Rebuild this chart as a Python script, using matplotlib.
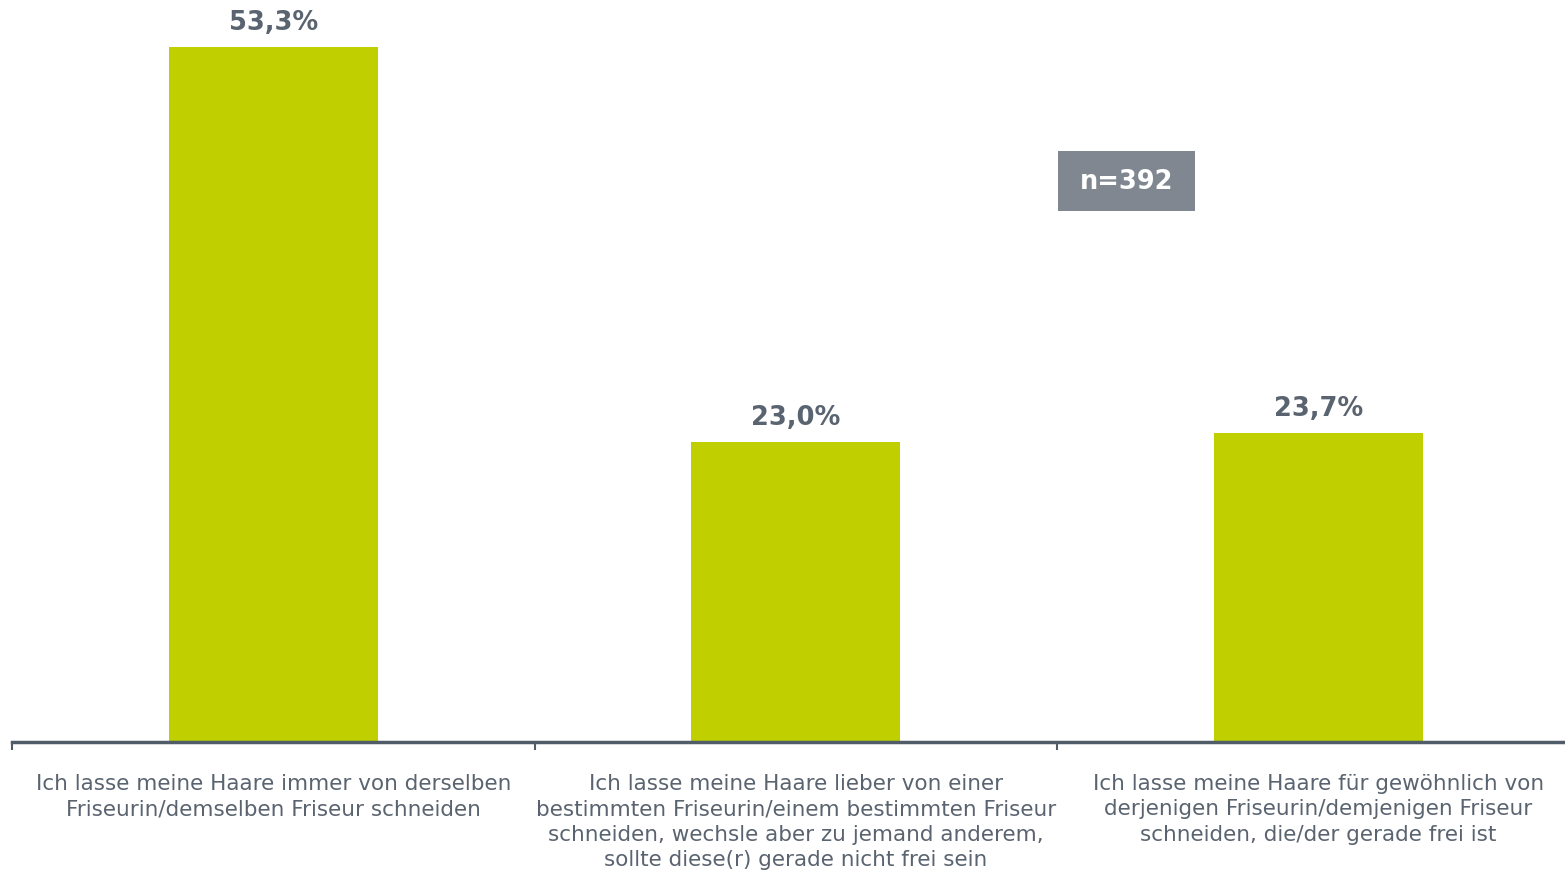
import matplotlib
matplotlib.use("Agg")
import matplotlib.pyplot as plt
from matplotlib.patches import Rectangle

categories = [
    "Ich lasse meine Haare immer von derselben\nFriseurin/demselben Friseur schneiden",
    "Ich lasse meine Haare lieber von einer\nbestimmten Friseurin/einem bestimmten Friseur\nschneiden, wechsle aber zu jemand anderem,\nsollte diese(r) gerade nicht frei sein",
    "Ich lasse meine Haare für gewöhnlich von\nderjenigen Friseurin/demjenigen Friseur\nschneiden, die/der gerade frei ist",
]
values = [53.3, 23.0, 23.7]
value_labels = ["53,3%", "23,0%", "23,7%"]
n_label = "n=392"

W, H = 1565, 871
fig = plt.figure(figsize=(W / 100, H / 100), dpi=100)
plt.rcParams['font.family'] = ['DejaVu Sans']

left = 12 / W
ax_w = (522.5 * 3) / W
bottom = (H - 742) / H
top_px = 25
ax_h = (742 - top_px) / H
ax = fig.add_axes([left, bottom, ax_w, ax_h])

text_col = "#5a6470"
bar_col = "#bfcf00"
axis_col = "#505c68"

x = list(range(len(values)))
ax.bar(x, values, width=0.4, color=bar_col, zorder=2)
ax.set_xlim(-0.5, 2.5)
ax.set_ylim(0, (742 - top_px) / 13.04)

for xi, v, lbl in zip(x, values, value_labels):
    ax.annotate(lbl, (xi, v), xytext=(0, 12), textcoords="offset points",
                ha="center", va="baseline", fontsize=18.5, fontweight="bold", color=text_col)

for s in ["top", "right", "left"]:
    ax.spines[s].set_visible(False)
ax.spines["bottom"].set_color(axis_col)
ax.spines["bottom"].set_linewidth(2.5)
ax.set_yticks([])
ax.set_xticks([-0.5, 0.5, 1.5, 2.5])
ax.set_xticklabels([])
ax.tick_params(axis="x", direction="out", length=6, width=1.5, color=axis_col)

for xi, c in zip(x, categories):
    ax.annotate(c, (xi, 0), xytext=(0, -23), textcoords="offset points",
                ha="center", va="top", fontsize=15.5, color=text_col,
                linespacing=1.34)

# n box
fig.patches.append(Rectangle((1058 / W, 1 - 211 / H), 137 / W, 60 / H,
                             transform=fig.transFigure, facecolor="#808790",
                             edgecolor="none"))
fig.text((1058 + 1195) / 2 / W, 1 - 182 / H, n_label, ha="center", va="center",
         fontsize=18.5, fontweight="bold", color="white")

fig.savefig("out.png", dpi=100)
